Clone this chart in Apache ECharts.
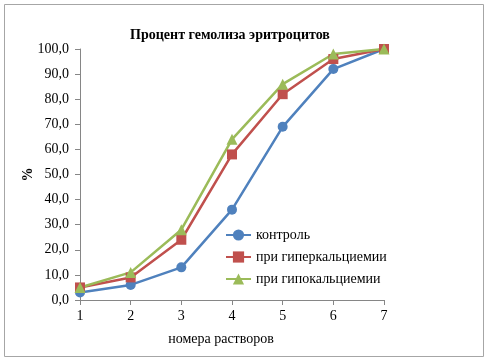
<!DOCTYPE html>
<html><head><meta charset="utf-8">
<script src="https://cdn.jsdelivr.net/npm/echarts@6/dist/echarts.min.js"></script>
<style>html,body{margin:0;padding:0;background:#fff}#c{width:489px;height:362px}</style>
</head><body><div id="c"></div>
<script>
const categories = ['1','2','3','4','5','6','7'];
const control = [3, 6, 13, 36, 69, 92, 100];
const hyper = [5, 9, 24, 58, 82, 96, 100];
const hypo = [5, 11, 28, 64, 86, 98, 100];
const seriesNames = ['контроль', 'при гиперкальциемии', 'при гипокальциемии'];
const titleText = 'Процент гемолиза эритроцитов';
const xName = 'номера растворов';
const yName = '%';

const F = '"Liberation Serif", "Times New Roman", serif';
const chart = echarts.init(document.getElementById('c'));
function mk(name, data, color, symbol, size) {
  return { name, type: 'line', data, symbol, symbolSize: size,
    lineStyle: { color, width: 2.5 }, itemStyle: { color }, z: 3 };
}
chart.setOption({
  animation: false,
  title: { text: titleText, left: 225, textAlign: 'center', top: 23,
    textStyle: { fontFamily: F, fontSize: 14, fontWeight: 'bold', color: '#000' } },
  grid: { left: 80, right: 105, top: 49, bottom: 62 },
  legend: { orient: 'vertical', left: 220, top: 223, itemWidth: 25, itemHeight: 14, itemGap: 8,
    data: seriesNames, textStyle: { fontFamily: F, fontSize: 14, color: '#000' } },
  xAxis: { type: 'category', data: categories, boundaryGap: false,
    name: xName, nameLocation: 'middle', nameGap: 32, nameMoveOverlap: false,
    nameTextStyle: { fontFamily: F, fontSize: 14, color: '#000', padding: [0, 22, 0, 0] },
    axisLine: { lineStyle: { color: '#868686', width: 1 } },
    axisTick: { show: true, alignWithLabel: true, length: 5, lineStyle: { color: '#868686' } },
    axisLabel: { fontFamily: F, fontSize: 14, color: '#000', margin: 9 } },
  yAxis: { type: 'value', min: 0, max: 100, interval: 10,
    name: yName, nameLocation: 'middle', nameGap: 45, nameRotate: 90, nameMoveOverlap: false,
    nameTextStyle: { fontFamily: F, fontSize: 14, fontWeight: 'bold', color: '#000' },
    axisLine: { show: true, lineStyle: { color: '#868686', width: 1 } },
    axisTick: { show: true, length: 5, lineStyle: { color: '#868686' } },
    splitLine: { show: false },
    axisLabel: { fontFamily: F, fontSize: 14, color: '#000', margin: 11,
      formatter: v => v.toFixed(1).replace('.', ',') } },
  graphic: [{ type: 'rect', shape: { x: 4.5, y: 4.5, width: 479, height: 352 },
    style: { fill: 'none', stroke: '#a6a6a6', lineWidth: 1 }, z: -1 }],
  series: [
    mk(seriesNames[0], control, '#4F81BD', 'circle', 10),
    mk(seriesNames[1], hyper, '#C0504D', 'rect', 10),
    mk(seriesNames[2], hypo, '#9BBB59', 'triangle', 11)
  ]
});
</script></body></html>
